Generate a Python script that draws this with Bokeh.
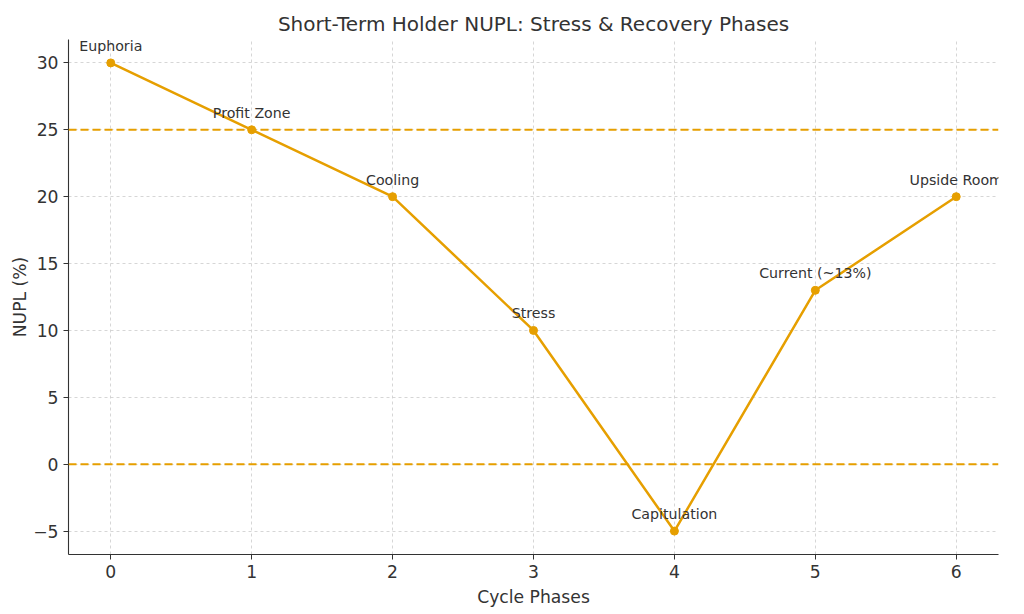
from bokeh.plotting import figure
from bokeh.models import Range1d, FixedTicker, Span, ColumnDataSource, Label
from bokeh.embed import file_html
from bokeh.resources import INLINE

phases = [0, 1, 2, 3, 4, 5, 6]
nupl = [30, 25, 20, 10, -5, 13, 20]
labels = ["Euphoria", "Profit Zone", "Cooling", "Stress", "Capitulation", "Current (~13%)", "Upside Room"]
ref_levels = [25, 0]
y_ticks = [-5, 0, 5, 10, 15, 20, 25, 30]

ORANGE = "#E69F00"
TXT = "#333333"
FONT = "DejaVu Sans"

p = figure(frame_width=930, frame_height=515, output_backend="svg", toolbar_location=None,
           x_range=Range1d(-0.3, 6.3), y_range=Range1d(-6.75, 31.75),
           min_border_left=10, min_border_right=10, min_border_top=10, min_border_bottom=10,
           title="Short-Term Holder NUPL: Stress & Recovery Phases")
p.margin = (5, 0, 0, 7)
p.outline_line_color = None
p.background_fill_color = "white"
p.border_fill_color = "white"

p.title.text_font = FONT
p.title.text_font_size = "20px"
p.title.text_font_style = "normal"
p.title.text_color = TXT
p.title.align = "center"
p.title.standoff = 8

for ax in (p.xaxis[0], p.yaxis[0]):
    ax.axis_line_color = TXT
    ax.axis_line_width = 1.1
    ax.major_tick_line_color = TXT
    ax.major_tick_out = 5
    ax.major_tick_in = 0
    ax.minor_tick_line_color = None
    ax.major_label_text_font = FONT
    ax.major_label_text_font_size = "17.2px"
    ax.major_label_text_color = TXT
    ax.axis_label_text_font = FONT
    ax.axis_label_text_font_size = "17.2px"
    ax.axis_label_text_font_style = "normal"
    ax.axis_label_text_color = TXT
    ax.major_label_standoff = 5

p.xaxis.ticker = FixedTicker(ticks=phases)
p.yaxis.ticker = FixedTicker(ticks=y_ticks)
p.yaxis.major_label_overrides = {t: (str(t).replace("-", "\u2212")) for t in y_ticks}
p.xaxis.axis_label = "Cycle Phases"
p.yaxis.axis_label = "NUPL (%)"
p.xaxis.axis_label_standoff = 6
p.yaxis.axis_label_standoff = 0

for g in (p.xgrid[0], p.ygrid[0]):
    g.grid_line_color = "#cccccc"
    g.grid_line_dash = "3 3"
    g.grid_line_width = 0.8

for lv in ref_levels:
    p.add_layout(Span(location=lv, dimension="width", line_color=ORANGE,
                      line_dash="8 4", line_width=2))

src = ColumnDataSource(dict(x=phases, y=nupl, label=labels))
p.line("x", "y", source=src, line_color=ORANGE, line_width=2.5)
p.scatter("x", "y", source=src, size=8, fill_color=ORANGE, line_color=ORANGE)
for xi, yi, lab in zip(phases, nupl, labels):
    p.add_layout(Label(x=xi, y=yi, text=lab, text_align="center", text_baseline="alphabetic",
                       y_offset=17, text_font=FONT, text_font_size="14.2px",
                       text_color=TXT, level="overlay"))

open("out.html", "w").write(file_html(p, INLINE))
